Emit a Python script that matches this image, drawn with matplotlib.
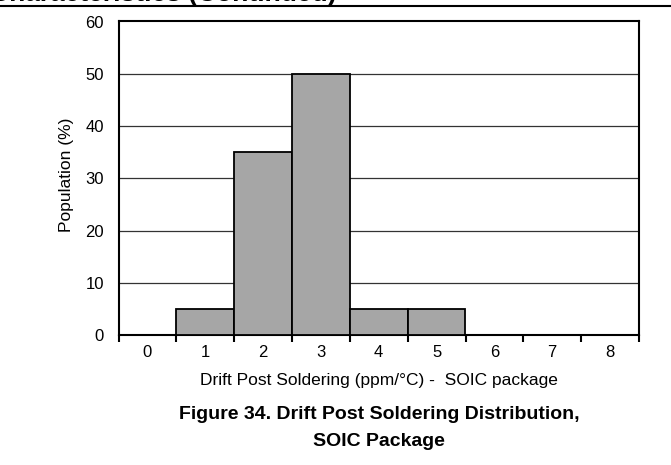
import matplotlib.pyplot as plt

# drift after soldering, SOIC package
categories = [0, 1, 2, 3, 4, 5, 6, 7, 8]
population = [0, 5, 35, 50, 5, 5, 0, 0, 0]
yticks = [0, 10, 20, 30, 40, 50, 60]

plt.rcParams['font.family'] = ['Liberation Sans', 'DejaVu Sans']

fig = plt.figure(figsize=(6.71, 4.65), dpi=100)
W, H = 671, 465
left, right, top, bottom = 118.5, 639, 21.5, 335
ax = fig.add_axes([left / W, 1 - bottom / H, (right - left) / W, (bottom - top) / H])

ax.bar(categories, population, width=1.0, color='#a6a6a6', edgecolor='black',
       linewidth=1.3, zorder=3)

ax.set_xlim(-0.5, 8.5)
ax.set_ylim(0, 60)
ax.set_yticks(yticks)
for y in yticks[1:-1]:
    ax.axhline(y, color='#333333', linewidth=0.9, zorder=1)

# tick marks sit between categories, labels in the middle
ax.set_xticks([c - 0.5 for c in categories] + [8.5])
ax.set_xticklabels([])
ax.set_xticks(categories, minor=True)
ax.set_xticklabels([str(c) for c in categories], minor=True)
ax.tick_params(axis='x', which='major', length=5, width=1.5, direction='out', color='black')
ax.tick_params(axis='x', which='minor', length=0, pad=7, labelsize=12)
ax.tick_params(axis='y', length=0, pad=10.5, labelsize=12)

for s in ax.spines.values():
    s.set_linewidth(1.5)

# axis titles placed in page pixels
fig.text(379 / W, 1 - 385 / H, 'Drift Post Soldering (ppm/°C) -  SOIC package',
         fontsize=12.5, ha='center', va='baseline')
fig.text(66 / W, 1 - 175 / H, 'Population (%)', fontsize=12.5, rotation=90,
         ha='center', va='center')

# section header, almost all cut off by the page top, and its rule
fig.text(336 / W, 1 - 1.5 / H, 'Typical Characteristics (Continued)', fontsize=19,
         fontweight='bold', ha='right', va='baseline')
fig.add_artist(plt.Line2D([0, 1], [1 - 6.5 / H, 1 - 6.5 / H], color='black', linewidth=1.5))

fig.text(379 / W, 1 - 419 / H, 'Figure 34. Drift Post Soldering Distribution,',
         fontsize=14, fontweight='bold', ha='center', va='baseline')
fig.text(379 / W, 1 - 446 / H, 'SOIC Package',
         fontsize=14, fontweight='bold', ha='center', va='baseline')

fig.savefig('out.png', dpi=100)
